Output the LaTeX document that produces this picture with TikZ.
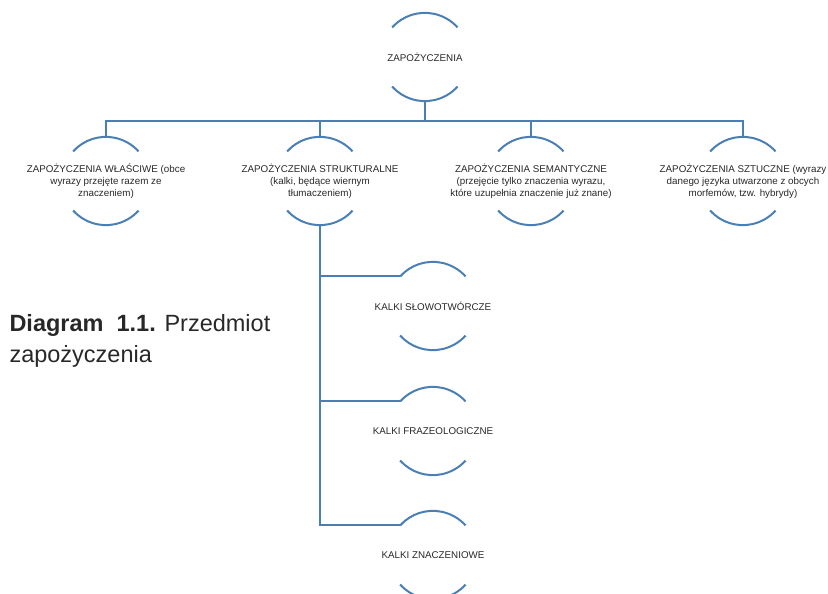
\documentclass[tikz,border=0pt]{standalone}
\usepackage{fontspec}
\setmainfont{Liberation Sans}
\usetikzlibrary{calc}

\definecolor{lineblue}{RGB}{74,127,181}
\definecolor{txtgray}{RGB}{40,40,40}

\tikzset{
    ring/.style={circle, minimum size=88pt, inner sep=0pt},
    lbl/.style={align=center, text=txtgray, font=\fontsize{9.8}{12}\selectfont},
    ln/.style={draw=lineblue, line width=2pt},
}

\begin{document}
\begin{tikzpicture}[x=1pt, y=1pt]
        \useasboundingbox (0,0) rectangle (828,594);

        % korzen
        \node[ring] (root) at (425,537) {};
        \node[lbl] (roott) at (root) {ZAPOŻYCZENIA};
        \coordinate (bus) at (425,473);

        % drugi poziom
        \node[ring] (c1) at (106,413) {};
        \node[ring] (c2) at (320,413) {};
        \node[ring] (c3) at (531,413) {};
        \node[ring] (c4) at (743,413) {};
        \node[lbl] (c1t) at (c1) {ZAPOŻYCZENIA WŁAŚCIWE (obce\\wyrazy przejęte razem ze\\znaczeniem)};
        \node[lbl] (c2t) at (c2) {ZAPOŻYCZENIA STRUKTURALNE\\(kalki, będące wiernym\\tłumaczeniem)};
        \node[lbl] (c3t) at (c3) {ZAPOŻYCZENIA SEMANTYCZNE\\(przejęcie tylko znaczenia wyrazu,\\które uzupełnia znaczenie już znane)};
        \node[lbl] (c4t) at (c4) {ZAPOŻYCZENIA SZTUCZNE (wyrazy\\danego języka utwarzone z obcych\\morfemów, tzw. hybrydy)};

        % kalki
        \node[ring] (k1) at (433,288) {};
        \node[ring] (k2) at (433,163) {};
        \node[ring] (k3) at (433,39) {};
        \node[lbl] (k1t) at (k1) {KALKI SŁOWOTWÓRCZE};
        \node[lbl] (k2t) at (k2) {KALKI FRAZEOLOGICZNE};
        \node[lbl] (k3t) at (k3) {KALKI ZNACZENIOWE};

        % luki
        \foreach \n in {root,c1,c2,c3,c4,k1,k2,k3} {
            \draw[ln] (\n.138) arc[start angle=138, end angle=42, radius=44pt];
            \draw[ln] (\n.222) arc[start angle=222, end angle=318, radius=44pt];
        }

        % polaczenia
        \draw[ln] (root.south) -- (bus);
        \draw[ln] (bus) -| (c1.north);
        \draw[ln] (bus) -| (c2.north);
        \draw[ln] (bus) -| (c3.north);
        \draw[ln] (bus) -| (c4.north);
        \draw[ln] (c2.south) |- (k1.138);
        \draw[ln] (c2.south) |- (k2.138);
        \draw[ln] (c2.south) |- (k3.138);

        \node[anchor=west, align=left, text=txtgray, font=\fontsize{23.5}{31}\selectfont] (cap) at (6,253) {\textbf{Diagram\ \ 1.1.} Przedmiot\\zapożyczenia};
\end{tikzpicture}
\end{document}
